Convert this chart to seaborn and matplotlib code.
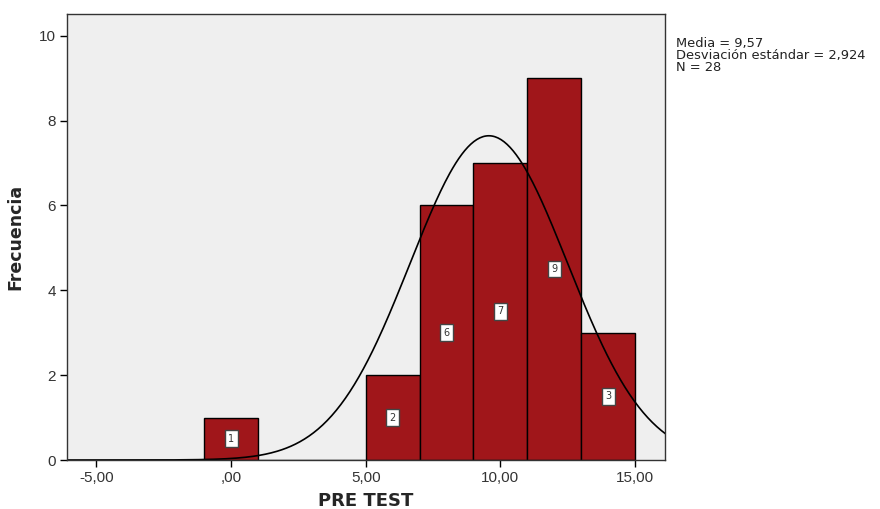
import numpy as np
import pandas as pd
import matplotlib
matplotlib.use("Agg")
import matplotlib.pyplot as plt
import seaborn as sns

# Data
bin_centers = [0, 6, 8, 10, 12, 14]
counts = [1, 2, 6, 7, 9, 3]
bin_width = 2
mean_val = 9.57
sd_val = 2.924
n_val = 28
x_ticks = [-5, 0, 5, 10, 15]
x_tick_labels = ["-5,00", ",00", "5,00", "10,00", "15,00"]
y_ticks = [0, 2, 4, 6, 8, 10]
stats_text = "Media = 9,57\nDesviación estándar = 2,924\nN = 28"

sns.set_theme(style="white")
plt.rcParams["font.family"] = ["Liberation Sans", "DejaVu Sans"]

fig = plt.figure(figsize=(8.8, 5.09), dpi=100)
ax = fig.add_axes([67/880, 1-460/509, (665-67)/880, (460-14)/509])
ax.set_facecolor("#EFEFEF")

df = pd.DataFrame({"x": bin_centers, "w": counts})
sns.histplot(data=df, x="x", weights="w", binwidth=bin_width, binrange=(-1, 15),
             color="#A0161A", edgecolor="black", linewidth=1.0, alpha=1.0, ax=ax)

# Fitted normal curve
xs = np.linspace(-6.2, 16.2, 400)
ys = n_val * bin_width * np.exp(-0.5 * ((xs - mean_val) / sd_val) ** 2) / (sd_val * np.sqrt(2 * np.pi))
sns.lineplot(x=xs, y=ys, color="black", linewidth=1.2, ax=ax)

for c, v in zip(bin_centers, counts):
    ax.text(c, v / 2, str(v), ha="center", va="center", fontsize=7, color="#333333",
            family="DejaVu Sans",
            bbox=dict(boxstyle="square,pad=0.35", facecolor="white", edgecolor="#444444", linewidth=1.0))

ax.set_xlim(-6.09, 16.11)
ax.set_ylim(0, 10.51)
ax.set_xticks(x_ticks)
ax.set_xticklabels(x_tick_labels)
ax.set_yticks(y_ticks)
ax.tick_params(axis="both", direction="out", length=5, width=1, colors="black", labelsize=11, pad=3,
               bottom=True, left=True)
for lab in ax.get_xticklabels() + ax.get_yticklabels():
    lab.set_color("#333333")
for s in ax.spines.values():
    s.set_color("#333333")
    s.set_linewidth(1.0)

ax.set_xlabel("PRE TEST", fontsize=13, fontweight="bold", family="DejaVu Sans", labelpad=5)
ax.set_ylabel("Frecuencia", fontsize=12.5, fontweight="bold", family="DejaVu Sans")
ax.yaxis.set_label_coords(-0.072, 0.5)

fig.text(676/880, 1-37/509, stats_text, fontsize=9.4, va="top", ha="left", linespacing=0.92,
         color="#222222", family="DejaVu Sans")

fig.savefig("out.png", dpi=100)
